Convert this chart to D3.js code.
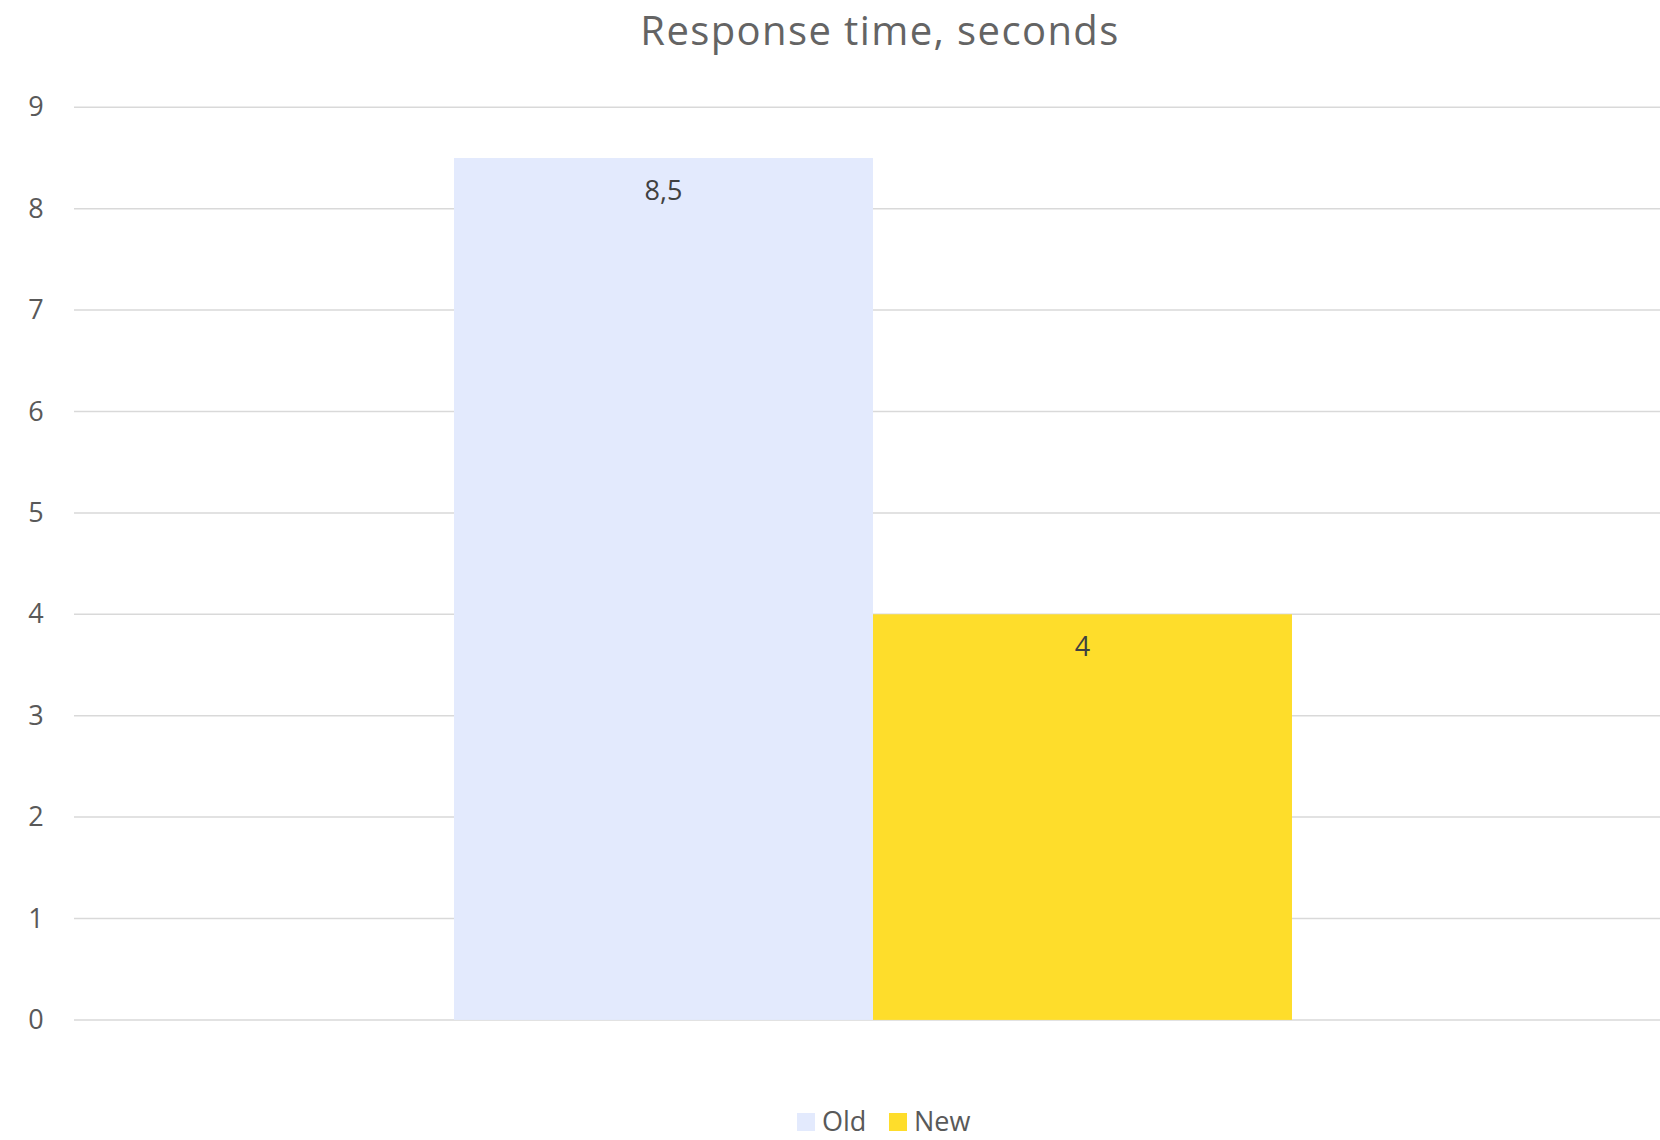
<!DOCTYPE html>
<html>
<head>
<meta charset="utf-8">
<script src="https://cdn.jsdelivr.net/npm/d3@7"></script>
<style>
  body { margin: 0; background: #fff; }
  text { font-family: "Open Sans", "Noto Sans", sans-serif; }
</style>
</head>
<body>
<div class="canvas"></div>
<script>
const categories = ["Response time"];
const seriesNames = ["Old", "New"];
const seriesValues = [8.5, 4];
const seriesLabels = ["8,5", "4"];
const yTicks = [0, 1, 2, 3, 4, 5, 6, 7, 8, 9];
const colors = ["#e3eafd", "#fedd2b"];

const width = 1660, height = 1140;
const svg = d3.select(".canvas").append("svg")
  .attr("width", width).attr("height", height);

// plot area (right side runs past the picture edge)
const plotLeft = 74, plotRight = 1672, plotTop = 107.3, plotBottom = 1019.9;

const y = d3.scaleLinear().domain([0, 9]).range([plotBottom, plotTop]);

const x0 = d3.scaleBand().domain(categories).range([plotLeft, plotRight])
  .paddingInner(0).paddingOuter(0.4535);
const x1 = d3.scaleBand().domain(seriesNames).range([0, x0.bandwidth()]).padding(0);

// gridlines
svg.append("g").selectAll("line").data(yTicks).enter().append("line")
  .attr("x1", plotLeft).attr("x2", width)
  .attr("y1", d => y(d)).attr("y2", d => y(d))
  .attr("stroke", "#d9d9d9").attr("stroke-width", 1.5);

// y axis labels
const yAxis = d3.axisLeft(y).tickValues(yTicks).tickSize(0).tickPadding(0);
const ya = svg.append("g").attr("transform", "translate(44,0)").call(yAxis);
ya.select(".domain").remove();
ya.selectAll("text")
  .attr("x", -8).attr("text-anchor", "middle")
  .style("font-family", '"Open Sans", sans-serif')
  .style("font-size", "27px").attr("fill", "#595959");

// bars
const bars = svg.append("g").selectAll("g").data(categories).enter().append("g")
  .attr("transform", d => "translate(" + x0(d) + ",0)");

const barData = seriesNames.map((s, i) => ({ name: s, value: seriesValues[i], label: seriesLabels[i], color: colors[i] }));

bars.selectAll("rect").data(barData).enter().append("rect")
  .attr("x", d => x1(d.name))
  .attr("width", x1.bandwidth())
  .attr("y", d => y(d.value))
  .attr("height", d => y(0) - y(d.value))
  .attr("fill", d => d.color);

bars.selectAll("text").data(barData).enter().append("text")
  .attr("x", d => x1(d.name) + x1.bandwidth() / 2)
  .attr("y", d => y(d.value) + 42)
  .attr("text-anchor", "middle")
  .style("font-size", "27px").attr("fill", "#404040")
  .text(d => d.label);

// title
svg.append("text")
  .attr("x", 880).attr("y", 45)
  .attr("text-anchor", "middle")
  .style("font-size", "40px").style("letter-spacing", "1.4px")
  .attr("fill", "#646464")
  .text("Response time, seconds");

// legend
const legend = svg.append("g").attr("transform", "translate(797,1113)");
const legendX = [0, 92];
const items = legend.selectAll("g").data(barData).enter().append("g")
  .attr("transform", (d, i) => "translate(" + legendX[i] + ",0)");
items.append("rect").attr("width", 18).attr("height", 18).attr("fill", d => d.color);
items.append("text").attr("x", 25).attr("y", 18)
  .style("font-size", "27px").attr("fill", "#595959")
  .text(d => d.name);
</script>
</body>
</html>
